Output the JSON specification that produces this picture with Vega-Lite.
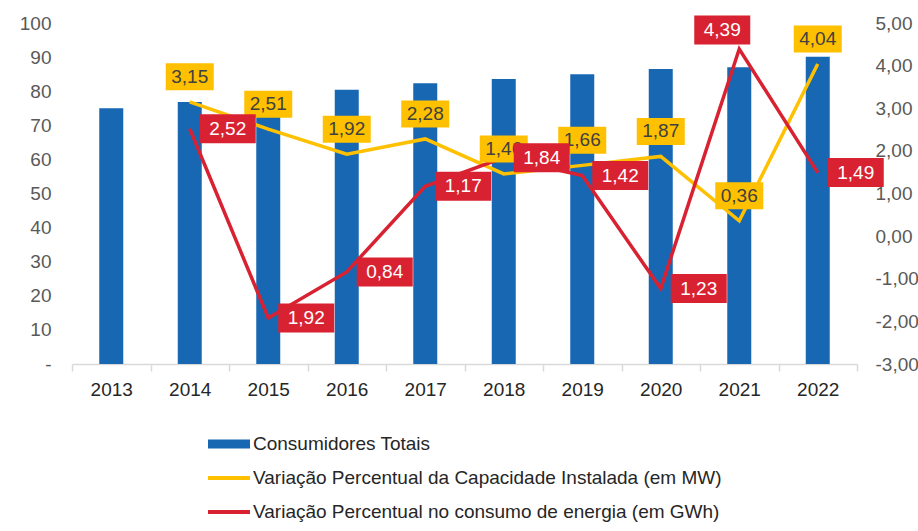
{
  "$schema": "https://vega.github.io/schema/vega-lite/v6.json",
  "width": 785,
  "height": 341,
  "autosize": {"type": "none"},
  "padding": {"left": 72, "top": 23, "right": 61, "bottom": 167},
  "background": "white",
  "config": {
    "font": "Liberation Sans",
    "view": {"stroke": null},
    "locale": {"number": {"decimal": ",", "thousands": ".", "grouping": [3], "currency": ["", ""], "minus": "-"}}
  },
  "data": {
    "values": [
      {"ano": "2013", "consumidores": 75.0, "capacidade": null, "consumo": null},
      {"ano": "2014", "consumidores": 76.8, "capacidade": 3.15, "consumo": 2.52},
      {"ano": "2015", "consumidores": 78.5, "capacidade": 2.51, "consumo": -1.92},
      {"ano": "2016", "consumidores": 80.4, "capacidade": 1.92, "consumo": -0.84},
      {"ano": "2017", "consumidores": 82.3, "capacidade": 2.28, "consumo": 1.17},
      {"ano": "2018", "consumidores": 83.6, "capacidade": 1.46, "consumo": 1.84},
      {"ano": "2019", "consumidores": 85.0, "capacidade": 1.66, "consumo": 1.42},
      {"ano": "2020", "consumidores": 86.5, "capacidade": 1.87, "consumo": -1.23},
      {"ano": "2021", "consumidores": 87.0, "capacidade": 0.36, "consumo": 4.39},
      {"ano": "2022", "consumidores": 90.1, "capacidade": 4.04, "consumo": 1.49}
    ]
  },
  "encoding": {
    "x": {
      "field": "ano",
      "type": "nominal",
      "sort": null,
      "scale": {"paddingInner": 0, "paddingOuter": 0},
      "axis": {
        "title": null,
        "labelAngle": 0,
        "labelFontSize": 19,
        "labelColor": "#262626",
        "labelPadding": 9,
        "domainColor": "#d9d9d9",
        "domainWidth": 1.5,
        "tickColor": "#d9d9d9",
        "tickWidth": 1.5,
        "tickSize": 7,
        "tickBand": "extent",
        "grid": false
      }
    }
  },
  "layer": [
    {
      "mark": {"type": "bar", "size": 24},
      "encoding": {
        "y": {
          "field": "consumidores",
          "type": "quantitative",
          "scale": {"domain": [0, 100], "nice": false, "zero": true},
          "axis": {
            "orient": "left",
            "title": null,
            "values": [0, 10, 20, 30, 40, 50, 60, 70, 80, 90, 100],
            "labelExpr": "datum.value === 0 ? '-' : datum.label",
            "labelFontSize": 19,
            "labelColor": "#595959",
            "labelPadding": 21,
            "domain": false,
            "ticks": false,
            "grid": false
          }
        },
        "color": {
          "datum": "Consumidores Totais",
          "type": "nominal",
          "scale": {
            "domain": ["Consumidores Totais", "Variação Percentual da Capacidade Instalada (em MW)", "Variação Percentual no consumo de energia (em GWh)"],
            "range": ["#1767b3", "#ffc000", "#d92231"]
          },
          "legend": {
            "title": null,
            "orient": "none",
            "legendX": 147,
            "legendY": 411,
            "direction": "vertical",
            "symbolSize": 400,
            "labelFontSize": 19,
            "labelColor": "#262626",
            "labelOffset": 14,
            "labelLimit": 700,
            "rowPadding": 14,
            "encode": {
              "symbols": {
                "update": {
                  "shape": {"signal": "datum.value === 'Consumidores Totais' ? 'M-2.1,-0.45H2.1V0.45H-2.1Z' : 'M-2.1,-0.2H2.1V0.2H-2.1Z'"},
                  "fill": {"scale": "color", "field": "value"},
                  "stroke": {"value": "transparent"},
                  "strokeWidth": {"value": 0},
                  "opacity": {"value": 1},
                  "fillOpacity": {"value": 1},
                  "size": {"value": 400}
                }
              }
            }
          }
        }
      }
    },
    {
      "encoding": {
        "y": {
          "type": "quantitative",
          "scale": {"domain": [-3, 5], "nice": false, "zero": false},
          "axis": {
            "orient": "right",
            "title": null,
            "values": [-3, -2, -1, 0, 1, 2, 3, 4, 5],
            "format": ".2f",
            "labelFontSize": 19,
            "labelColor": "#595959",
            "labelPadding": 18,
            "domain": false,
            "ticks": false,
            "grid": false
          }
        }
      },
      "layer": [
        {
          "transform": [{"filter": "datum.capacidade != null"}],
          "mark": {"type": "line", "strokeWidth": 3.5},
          "encoding": {
            "y": {"field": "capacidade", "type": "quantitative"},
            "color": {"datum": "Variação Percentual da Capacidade Instalada (em MW)", "type": "nominal"}
          }
        },
        {
          "transform": [{"filter": "datum.consumo != null"}],
          "mark": {"type": "line", "strokeWidth": 3.5},
          "encoding": {
            "y": {"field": "consumo", "type": "quantitative"},
            "color": {"datum": "Variação Percentual no consumo de energia (em GWh)", "type": "nominal"}
          }
        },
        {
          "transform": [{"filter": "datum.capacidade != null"}],
          "mark": {"type": "point", "shape": "M-1,-0.5625H1V0.5625H-1Z", "size": 2304, "filled": true, "fill": "#ffc000", "opacity": 1, "strokeWidth": 0, "yOffset": -25},
          "encoding": {"y": {"field": "capacidade", "type": "quantitative"}}
        },
        {
          "transform": [{"filter": "datum.capacidade != null"}],
          "mark": {"type": "text", "fontSize": 19, "color": "#404040", "align": "center", "baseline": "middle", "yOffset": -25},
          "encoding": {
            "y": {"field": "capacidade", "type": "quantitative"},
            "text": {"field": "capacidade", "type": "quantitative", "format": ".2f"}
          }
        },
        {
          "transform": [{"filter": "datum.consumo != null && datum.ano != '2021'"}],
          "mark": {"type": "point", "shape": "M-1,-0.518H1V0.518H-1Z", "size": 3136, "filled": true, "fill": "#d92231", "opacity": 1, "strokeWidth": 0, "xOffset": 38},
          "encoding": {"y": {"field": "consumo", "type": "quantitative"}}
        },
        {
          "transform": [{"filter": "datum.consumo != null && datum.ano != '2021'"}, {"calculate": "abs(datum.consumo)", "as": "consumoAbs"}],
          "mark": {"type": "text", "fontSize": 19, "color": "white", "align": "center", "baseline": "middle", "xOffset": 38},
          "encoding": {
            "y": {"field": "consumo", "type": "quantitative"},
            "text": {"field": "consumoAbs", "type": "quantitative", "format": ".2f"}
          }
        },
        {
          "transform": [{"filter": "datum.ano == '2021'"}],
          "mark": {"type": "point", "shape": "M-1,-0.518H1V0.518H-1Z", "size": 3136, "filled": true, "fill": "#d92231", "opacity": 1, "strokeWidth": 0, "xOffset": -17, "yOffset": -19},
          "encoding": {"y": {"field": "consumo", "type": "quantitative"}}
        },
        {
          "transform": [{"filter": "datum.ano == '2021'"}, {"calculate": "abs(datum.consumo)", "as": "consumoAbs"}],
          "mark": {"type": "text", "fontSize": 19, "color": "white", "align": "center", "baseline": "middle", "xOffset": -17, "yOffset": -19},
          "encoding": {
            "y": {"field": "consumo", "type": "quantitative"},
            "text": {"field": "consumoAbs", "type": "quantitative", "format": ".2f"}
          }
        }
      ]
    }
  ],
  "resolve": {"scale": {"y": "independent"}, "axis": {"y": "independent"}}
}
